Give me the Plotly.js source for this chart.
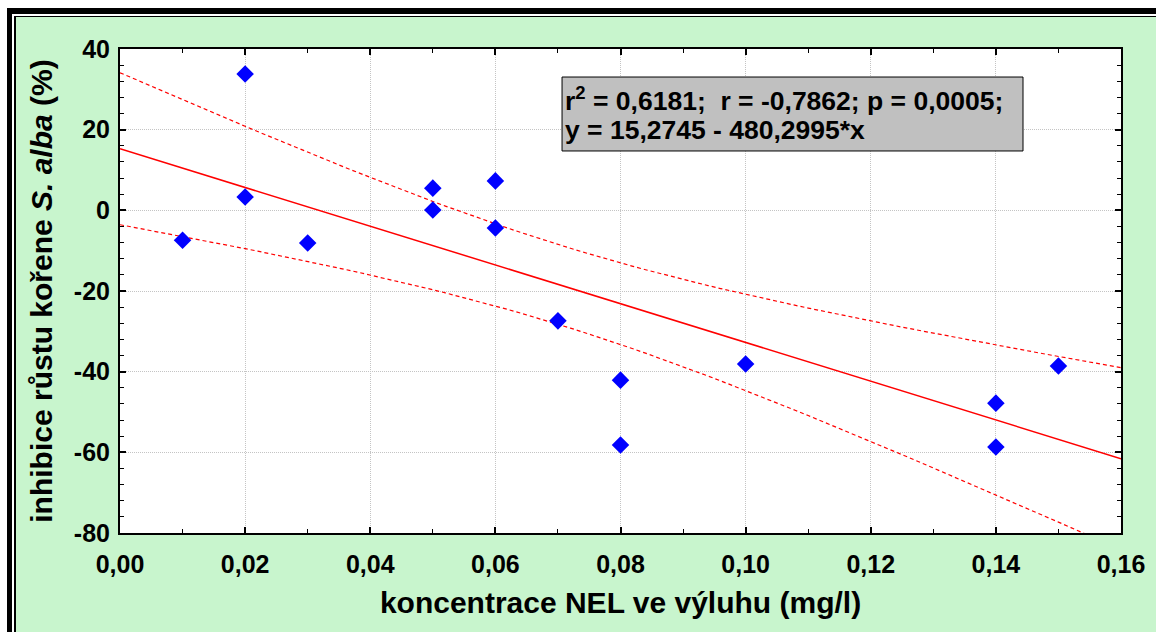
<!DOCTYPE html>
<html>
<head>
<meta charset="utf-8">
<script src="https://cdn.plot.ly/plotly-3.0.1.min.js"></script>
<style>
html,body{margin:0;padding:0;background:#fff;overflow:hidden;width:1156px;height:632px;}
#chart{position:absolute;left:0;top:0;width:1156px;height:632px;}
.fr{position:absolute;pointer-events:none;width:2000px;height:2000px;}
</style>
</head>
<body>
<div id="chart"></div>
<div class="fr" style="left:0;top:0;border-top:8px solid #fff;border-left:7px solid #fff;"></div>
<div class="fr" style="left:7px;top:8px;border-top:6px solid #000;border-left:5px solid #000;"></div>
<div class="fr" style="left:12px;top:14px;border-top:2px solid #fff;border-left:2px solid #fff;"></div>
<div class="fr" style="left:14px;top:16px;border-top:1px solid #000;border-left:2px solid #000;"></div>
<script>
// Data
var concentration = [0.01, 0.02, 0.02, 0.03, 0.05, 0.05, 0.06, 0.06, 0.07, 0.08, 0.08, 0.10, 0.14, 0.14, 0.15];
var inhibition    = [-7.4, 33.8, 3.3, -8.1, 5.5, 0.1, 7.3, -4.4, -27.4, -42.1, -58.2, -38.1, -47.8, -58.7, -38.6];
var intercept = 15.2745;
var slope = -480.2995;
var tCrit = 2.1604; // t(0.975, n-2 = 13)
var xTickVals = [0, 0.02, 0.04, 0.06, 0.08, 0.10, 0.12, 0.14, 0.16];
var xTickText = ["0,00", "0,02", "0,04", "0,06", "0,08", "0,10", "0,12", "0,14", "0,16"];
var yTickVals = [-80, -60, -40, -20, 0, 20, 40];
var yTickText = ["-80", "-60", "-40", "-20", "0", "20", "40"];
var statsLine1 = "r<sup>2</sup> = 0,6181;&nbsp; r = -0,7862; p = 0,0005;";
var statsLine2 = "y = 15,2745 - 480,2995*x";

var n = concentration.length;
var mx = concentration.reduce(function(a,b){return a+b;},0)/n;
var sxx = 0, sse = 0;
for (var i=0;i<n;i++){
  sxx += Math.pow(concentration[i]-mx,2);
  sse += Math.pow(inhibition[i]-(intercept+slope*concentration[i]),2);
}
var s = Math.sqrt(sse/(n-2));
var gx = [], gy = [], up = [], lo = [];
for (var k=0;k<=80;k++){
  var x = 0.16*k/80;
  var yh = intercept + slope*x;
  var hw = tCrit*s*Math.sqrt(1/n + Math.pow(x-mx,2)/sxx);
  gx.push(x); gy.push(yh); up.push(yh+hw); lo.push(yh-hw);
}

var FAM = "Liberation Sans, Arial, sans-serif";
var tickFont = {family:FAM, size:25, color:"#000", weight:"bold"};
var titleFont = {family:FAM, size:30, color:"#000", weight:"bold"};
var boxFont = {family:FAM, size:26.5, color:"#000", weight:"bold"};

var traces = [
  {x:gx, y:up, mode:"lines", line:{color:"#ff0000", width:1.2, dash:"4px,3px"}, hoverinfo:"skip"},
  {x:gx, y:lo, mode:"lines", line:{color:"#ff0000", width:1.2, dash:"4px,3px"}, hoverinfo:"skip"},
  {x:gx, y:gy, mode:"lines", line:{color:"#ff0000", width:1.5}, hoverinfo:"skip"},
  {x:concentration, y:inhibition, mode:"markers", marker:{symbol:"diamond", size:13.5, color:"#0000ff", line:{width:0}}}
];

var layout = {
  width:1156, height:632,
  paper_bgcolor:"#c8f5cd", plot_bgcolor:"#ffffff",
  margin:{l:120, r:35, t:49, b:99},
  showlegend:false,
  font:tickFont,
  xaxis:{
    range:[0,0.16], tickvals:xTickVals, ticktext:xTickText,
    showline:true, linecolor:"#000", linewidth:2, mirror:"ticks",
    ticks:"inside", ticklen:6, tickwidth:2, tickcolor:"#000",
    minor:{dtick:0.01, ticks:"inside", ticklen:4, tickwidth:1, tickcolor:"#000", showgrid:false},
    showgrid:true, gridcolor:"#c4c4c4", gridwidth:1, griddash:"1px,1px",
    zeroline:false, tickfont:tickFont, ticklabelstandoff:8,
    title:{text:"koncentrace NEL ve výluhu (mg/l)", font:titleFont, standoff:15}
  },
  yaxis:{
    range:[-80,40], tickvals:yTickVals, ticktext:yTickText,
    showline:true, linecolor:"#000", linewidth:2, mirror:"ticks",
    ticks:"inside", ticklen:6, tickwidth:2, tickcolor:"#000",
    minor:{dtick:4, ticks:"inside", ticklen:4, tickwidth:1, tickcolor:"#000", showgrid:false},
    showgrid:true, gridcolor:"#c4c4c4", gridwidth:1, griddash:"1px,1px",
    zeroline:false, tickfont:tickFont, ticklabelstandoff:3,
    title:{text:"inhibice růstu kořene <i>S. alba</i> (%)", font:titleFont, standoff:12}
  },
  shapes:[{
    type:"rect", xref:"paper", yref:"paper", layer:"above",
    x0:0.4416, x1:0.9021, y0:0.7893, y1:0.9421,
    fillcolor:"#c0c0c0", line:{color:"#000", width:1}
  }],
  annotations:[
    {xref:"paper", yref:"paper", x:0.4426, y:0.8967, xanchor:"left", yanchor:"middle",
     text:statsLine1, showarrow:false, font:boxFont},
    {xref:"paper", yref:"paper", x:0.4426, y:0.8326, xanchor:"left", yanchor:"middle",
     text:statsLine2, showarrow:false, font:boxFont}
  ]
};

Plotly.newPlot("chart", traces, layout, {displayModeBar:false, staticPlot:true});
</script>
</body>
</html>
